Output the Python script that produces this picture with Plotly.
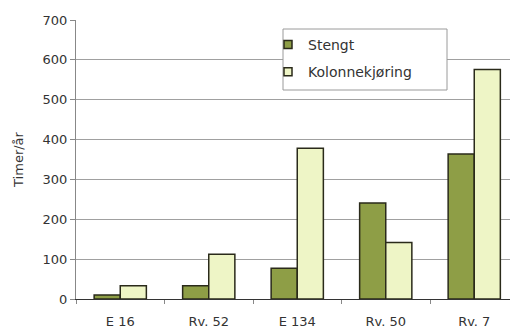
import plotly.graph_objects as go

categories = ["E 16", "Rv. 52", "E 134", "Rv. 50", "Rv. 7"]
stengt = [10, 33, 77, 241, 364]
kolonne = [33, 112, 378, 142, 576]
series_names = ["Stengt", "Kolonnekjøring"]
y_ticks = [0, 100, 200, 300, 400, 500, 600, 700]

FONT = "DejaVu Sans"
C_STENGT = "#8e9e46"
C_KOLONNE = "#eef5c6"
EDGE = "#2a2a1a"

PLOT_L, PLOT_R, PLOT_T, PLOT_B = 76, 510, 20, 299


def px_x(p):
    return (p - PLOT_L) / (PLOT_R - PLOT_L)


def px_y(p):
    return (PLOT_B - p) / (PLOT_B - PLOT_T)


fig = go.Figure()
for vals, name, col in [(stengt, series_names[0], C_STENGT), (kolonne, series_names[1], C_KOLONNE)]:
    fig.add_trace(go.Bar(
        x=categories, y=vals, name=name, showlegend=False,
        marker=dict(color=col, line=dict(color=EDGE, width=1.5)),
    ))
# legend markers (small squares like the original)
for name, col, grp in [(series_names[0], C_STENGT, "a"), (series_names[1], C_KOLONNE, "b")]:
    fig.add_trace(go.Scatter(
        x=[None], y=[None], mode="markers", name=name, legendgroup=grp,
        marker=dict(symbol="square", size=8, color=col, line=dict(color=EDGE, width=1.5)),
    ))

# legend frame
fig.add_shape(
    type="rect", xref="paper", yref="paper",
    x0=px_x(283), x1=px_x(447), y0=px_y(90), y1=px_y(29),
    fillcolor="white", line=dict(color="#9a9a9a", width=1), layer="above",
)

fig.update_layout(
    width=510, height=331,
    margin=dict(l=PLOT_L, r=510 - PLOT_R, t=PLOT_T, b=331 - PLOT_B),
    paper_bgcolor="white", plot_bgcolor="white",
    barmode="group", bargap=0.41, bargroupgap=0,
    font=dict(family=FONT, color="#333333", size=13),
    showlegend=True,
    legend=dict(
        x=px_x(268), y=px_y(29),
        xanchor="left", yanchor="top",
        bgcolor="rgba(0,0,0,0)", borderwidth=0,
        font=dict(family=FONT, size=14, color="#333333"),
        tracegroupgap=6,
    ),
    xaxis=dict(
        range=[-0.5, 4.404],
        showline=True, linecolor="#333333", linewidth=1,
        ticks="outside", tickson="boundaries", ticklen=4, tickcolor="#888888",
        ticklabelstandoff=10,
        tickfont=dict(size=13, color="#333333"),
        showgrid=False,
    ),
    yaxis=dict(
        range=[0, 700], tickvals=y_ticks,
        showline=True, linecolor="#888888", linewidth=1,
        ticks="outside", ticklen=5, tickcolor="#888888",
        showgrid=True, gridcolor="#a0a0a0", gridwidth=1,
        zeroline=False,
        tickfont=dict(size=13, color="#333333"),
        title=dict(text="Timer/år", font=dict(size=13, color="#333333"), standoff=16),
    ),
)

fig.write_html("out.html")
